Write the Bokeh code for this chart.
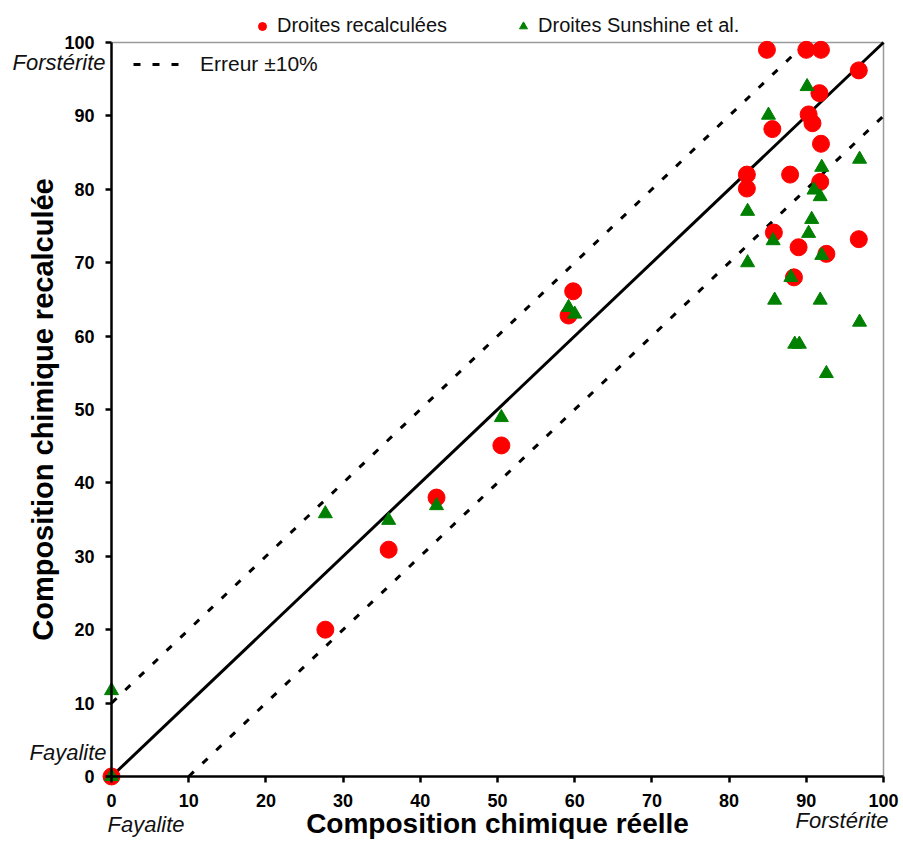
from bokeh.plotting import figure
from bokeh.models import Range1d, FixedTicker, Legend, LegendItem, Label
from bokeh.embed import file_html
from bokeh.resources import INLINE

# --- data ---
recalc_x = [0, 27.7, 35.9, 42.1, 50.5, 59.2, 59.8, 82.3, 82.3, 84.9, 85.6, 85.8,
            87.9, 88.4, 89.0, 90.0, 90.3, 90.8, 91.7, 91.9, 91.9, 91.8, 92.6, 96.8, 96.8]
recalc_y = [0, 20.0, 30.9, 38.0, 45.1, 62.8, 66.1, 82.0, 80.1, 99.0, 88.2, 74.1,
            82.0, 68.0, 72.1, 99.0, 90.2, 89.0, 93.1, 99.0, 86.2, 81.0, 71.2, 96.2, 73.2]

sun_x = [0, 0, 27.7, 35.9, 42.1, 50.5, 59.2, 60.0, 82.4, 82.4, 85.1, 85.7, 85.9,
         88.0, 88.5, 89.1, 90.1, 90.3, 90.7, 91.0, 91.8, 92.0, 92.0, 91.8, 92.6, 96.9, 96.9]
sun_y = [0, 11.7, 35.8, 34.9, 36.9, 48.9, 63.9, 63.0, 77.0, 70.0, 90.1, 73.0, 64.9,
         68.0, 58.9, 58.9, 94.0, 74.0, 75.9, 79.9, 79.0, 83.0, 71.0, 64.9, 54.9, 84.1, 61.9]

line_x = [0, 100]
line_y = [0, 100]
upper_x = [0, 90]
upper_y = [10, 100]
lower_x = [10, 100]
lower_y = [0, 90]

# plot box (top and right borders)
box_top_x = [0, 100]
box_top_y = [100, 100]
box_right_x = [100, 100]
box_right_y = [0, 100]

ticks = [0, 10, 20, 30, 40, 50, 60, 70, 80, 90, 100]

FONT = "'Liberation Sans', Arial, sans-serif"

p = figure(width=903, height=841, output_backend="svg", toolbar_location=None,
           x_range=Range1d(-14.38, 102.59), y_range=Range1d(-8.86, 105.72),
           min_border=0)

p.grid.visible = False
p.outline_line_color = None
p.background_fill_color = "white"
p.border_fill_color = "white"

for ax in (p.xaxis[0], p.yaxis[0]):
    ax.fixed_location = 0
    ax.bounds = (0, 100)
    ax.ticker = FixedTicker(ticks=ticks)
    ax.axis_line_color = "black"
    ax.axis_line_width = 2.5
    ax.major_tick_line_color = "black"
    ax.major_tick_line_width = 2.5
    ax.major_tick_out = 6
    ax.major_tick_in = 0
    ax.minor_tick_line_color = None
    ax.major_label_text_font = FONT
    ax.major_label_text_font_style = "bold"
    ax.major_label_text_font_size = "18px"
    ax.major_label_text_color = "black"
    ax.axis_label_text_font = FONT
    ax.axis_label_text_font_style = "bold"
    ax.axis_label_text_color = "black"

p.xaxis.axis_label = "Composition chimique réelle"
p.yaxis.axis_label = "Composition chimique recalculée"
p.xaxis.axis_label_text_font_size = "28px"
p.yaxis.axis_label_text_font_size = "29px"
p.xaxis.major_label_standoff = 12
p.xaxis.axis_label_standoff = -3
p.yaxis.major_label_standoff = 11
p.yaxis.axis_label_standoff = 2

# box borders
p.line(box_top_x, box_top_y, line_color="#9a9a9a", line_width=1.5)
p.line(box_right_x, box_right_y, line_color="#9a9a9a", line_width=1.5)

# lines
err_up = p.line(upper_x, upper_y, line_color="black", line_width=3, line_dash="7 12")
p.line(lower_x, lower_y, line_color="black", line_width=3, line_dash="7 12")
p.line(line_x, line_y, line_color="black", line_width=3)

# points
r_red = p.scatter(recalc_x, recalc_y, marker="circle", size=17, fill_color="#ff0000",
                  line_color="#ff0000")
r_green = p.scatter(sun_x, sun_y, marker="triangle", size=14, fill_color="#008000",
                    line_color="#008000")

legend_top = Legend(items=[LegendItem(label="Droites recalculées", renderers=[r_red]),
                           LegendItem(label="Droites Sunshine et al.", renderers=[r_green])],
                    orientation="horizontal", location=(252, 804),
                    label_text_font=FONT, label_text_font_size="20px",
                    label_text_color="#111111",
                    glyph_width=20, glyph_height=20, label_standoff=5, spacing=66,
                    padding=0, margin=0, border_line_color=None,
                    background_fill_alpha=0)
p.add_layout(legend_top)

legend_err = Legend(items=[LegendItem(label="Erreur ±10%", renderers=[err_up])],
                    location=(133, 765), label_text_font=FONT, label_text_font_size="21px",
                    label_text_color="#111111",
                    glyph_width=47, label_standoff=20, padding=0, margin=0,
                    border_line_color=None, background_fill_alpha=0)
p.add_layout(legend_err)

lab_kw = dict(text_font=FONT, text_font_style="italic", text_font_size="22px",
              text_color="#111111")
p.add_layout(Label(x=0, y=100, x_offset=-6, y_offset=-20, text="Forstérite",
                   text_align="right", text_baseline="middle", **lab_kw))
p.add_layout(Label(x=0, y=0, x_offset=-5, y_offset=24, text="Fayalite",
                   text_align="right", text_baseline="middle", **lab_kw))
p.add_layout(Label(x=0, y=0, x_offset=-4, y_offset=-48, text="Fayalite",
                   text_align="left", text_baseline="middle", **lab_kw))
p.add_layout(Label(x=100, y=0, x_offset=5, y_offset=-44, text="Forstérite",
                   text_align="right", text_baseline="middle", **lab_kw))

open("out.html", "w").write(file_html(p, INLINE))
